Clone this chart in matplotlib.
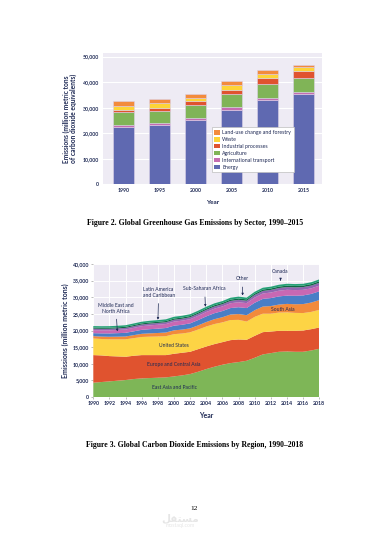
"""Two EPA-style charts on one page: GHG by sector (bars) and CO2 by region (stacked area)"""
import matplotlib
matplotlib.use("Agg")
import matplotlib.pyplot as plt
import numpy as np
from matplotlib.patches import Patch

plt.rcParams['font.family'] = ['Lato', 'DejaVu Sans']

NAVY = '#1F2A55'
BG = '#EEEBF4'

# --- Figure 2 data: emissions by sector (million metric tons CO2e)
bar_years = ['1990', '1995', '2000', '2005', '2010', '2015']
energy = [22450, 23230, 25300, 29200, 33150, 35240]
transport = [650, 750, 670, 900, 800, 1040]
agriculture = [5100, 4700, 4900, 5300, 5500, 5300]
industrial = [900, 1300, 1600, 1700, 2200, 2800]
waste = [1400, 1700, 1300, 1600, 1700, 1700]
land_use = [2000, 1800, 1700, 1600, 1500, 600]
sector_names = ['Energy', 'International transport', 'Agriculture',
                'Industrial processes', 'Waste', 'Land-use change and forestry']
sector_colors = ['#5F69B1', '#C56CB1', '#80B457', '#E0532F', '#FDD437', '#F38B3C']

# --- Figure 3 data: CO2 emissions by region (million metric tons)
years = list(range(1990, 2019))
east_asia = [4300, 4500, 4700, 4900, 5100, 5400, 5600, 5700, 5800, 5900, 6200, 6500, 6900, 7600, 8400,
             9100, 9700, 10200, 10500, 10900, 11800, 12800, 13200, 13600, 13700, 13600, 13600, 14000, 14500]
europe = [8300, 8000, 7600, 7300, 7000, 7000, 7000, 6900, 6800, 6700, 6800, 6800, 6700, 6800, 6800,
          6800, 6800, 6900, 6800, 6300, 6600, 6700, 6500, 6300, 6200, 6300, 6400, 6400, 6400]
united_states = [5000, 4950, 5050, 5150, 5250, 5300, 5450, 5550, 5600, 5700, 5900, 5800, 5850, 5900, 6000,
                 6050, 5950, 6050, 5900, 5500, 5700, 5550, 5350, 5500, 5550, 5400, 5250, 5200, 5300]
south_asia = [700, 730, 770, 800, 850, 900, 950, 1000, 1050, 1100, 1150, 1170, 1200, 1250, 1350,
              1450, 1550, 1650, 1750, 1900, 2000, 2150, 2300, 2400, 2550, 2600, 2700, 2800, 2950]
mena = [900, 950, 1000, 1050, 1100, 1150, 1200, 1250, 1300, 1350, 1400, 1450, 1500, 1600, 1700,
        1800, 1850, 1950, 2050, 2150, 2250, 2300, 2400, 2450, 2500, 2550, 2600, 2600, 2650]
latam = [900, 920, 940, 960, 1000, 1050, 1100, 1150, 1180, 1200, 1220, 1240, 1250, 1280, 1320,
         1360, 1400, 1450, 1500, 1480, 1580, 1620, 1680, 1720, 1740, 1700, 1680, 1680, 1700]
ssa = [450, 460, 460, 470, 480, 490, 500, 520, 530, 540, 560, 570, 580, 600, 630,
       650, 660, 690, 720, 720, 760, 770, 780, 800, 820, 820, 830, 830, 850]
other = [330, 330, 330, 330, 335, 340, 345, 350, 355, 360, 365, 370, 375, 380, 385,
         390, 395, 400, 405, 410, 415, 420, 425, 430, 435, 440, 445, 450, 455]
canada = [450, 445, 455, 465, 475, 485, 495, 505, 510, 520, 540, 530, 540, 555, 555,
          560, 550, 575, 560, 530, 545, 555, 550, 560, 560, 555, 545, 555, 570]
region_colors = ['#7EB657', '#E0532F', '#FDD445', '#F28A3B', '#4A7EC6', '#C868B3', '#9066B0',
                 '#0F6844', '#25A176']

fig = plt.figure(figsize=(3.65, 5.41), dpi=100)
W, H = 365.0, 541.0


def rect(x0, y_top, x1, y_bot):
    return [x0 / W, 1 - y_bot / H, (x1 - x0) / W, (y_bot - y_top) / H]


# ---------------- Figure 2: bars
ax1 = fig.add_axes(rect(103.3, 53.3, 321.7, 184.3))
ax1.set_facecolor(BG)
x = np.arange(len(bar_years))
bottom = np.zeros(len(bar_years))
for vals, col in zip([energy, transport, agriculture, industrial, waste, land_use], sector_colors):
    ax1.bar(x, vals, width=0.59, bottom=bottom, color=col, edgecolor='#DCD3E8', linewidth=0.4, zorder=3)
    bottom += np.array(vals)
ax1.set_xlim(-0.56, 5.51)
ax1.set_ylim(0, 51300)
ax1.set_yticks(range(0, 50001, 10000))
ax1.set_yticklabels(['0' if v == 0 else f'{v:,}' for v in range(0, 50001, 10000)])
ax1.set_xticks(x)
ax1.set_xticklabels(bar_years)
ax1.grid(axis='y', color='white', linewidth=0.8, zorder=0)
for s in ax1.spines.values():
    s.set_visible(False)
ax1.axhline(0, color='#C9C6D0', linewidth=0.6, zorder=4)
ax1.tick_params(length=0, labelsize=3.7, labelcolor=NAVY, pad=3)
for lab in ax1.get_xticklabels() + ax1.get_yticklabels():
    lab.set_fontweight('bold')
ax1.set_xlabel('Year', fontsize=4.6, fontweight='bold', color=NAVY, labelpad=5)
ax1.set_ylabel('Emissions (million metric tons\nof carbon dioxide equivalents)', fontsize=4.8,
               fontweight='bold', color=NAVY, labelpad=4, linespacing=1.0)
handles = [Patch(facecolor=c, edgecolor='none') for c in sector_colors][::-1]
leg = ax1.legend(handles, sector_names[::-1], loc='upper left', bbox_to_anchor=(0.496, 0.435),
                 fontsize=3.8, frameon=True, fancybox=False, edgecolor='#BDBDBD', framealpha=1,
                 handlelength=1.0, handleheight=1.0, handletextpad=0.5, labelspacing=0.33,
                 borderpad=0.5, borderaxespad=0)
leg.get_frame().set_linewidth(0.5)
leg.set_zorder(5)
for t in leg.get_texts():
    t.set_color(NAVY)

fig.text(195 / W, 1 - 222.7 / H, 'Figure 2. Global Greenhouse Gas Emissions by Sector, 1990\u20132015',
         ha='center', va='center', fontsize=5.6, fontweight='bold', family='Liberation Serif')

# ---------------- Figure 3: stacked area
ax2 = fig.add_axes(rect(93.3, 264, 319.3, 397))
ax2.set_facecolor(BG)
ax2.stackplot(years, east_asia, europe, united_states, south_asia, mena, latam, ssa, other, canada,
              colors=region_colors, linewidth=0, zorder=3)
ax2.set_xlim(1990, 2018)
ax2.set_ylim(0, 40000)
ax2.set_xticks(range(1990, 2019, 2))
ax2.set_yticks(range(0, 40001, 5000))
ax2.set_yticklabels(['0' if v == 0 else f'{v:,}' for v in range(0, 40001, 5000)])
ax2.grid(color='white', linewidth=0.7, zorder=0)
for s in ax2.spines.values():
    s.set_visible(False)
ax2.tick_params(length=1.5, width=0.4, color='#888888', labelsize=3.8, labelcolor=NAVY, pad=1.5)
for lab in ax2.get_xticklabels() + ax2.get_yticklabels():
    lab.set_fontweight('bold')
ax2.set_xlabel('Year', fontsize=5.0, fontweight='bold', color=NAVY, labelpad=4)
ax2.set_ylabel('Emissions (million metric tons)', fontsize=5.0, fontweight='bold', color=NAVY, labelpad=3)

lbl = dict(fontsize=3.6, color=NAVY, ha='center', va='center', zorder=6)
ax2.text(2000, 2900, 'East Asia and Pacific', **lbl)
ax2.text(2000, 9800, 'Europe and Central Asia', **lbl)
ax2.text(2000, 15400, 'United States', **lbl)
ax2.text(2013.5, 26200, 'South Asia', **lbl)
arrow = dict(arrowstyle='-|>', color=NAVY, lw=0.5, mutation_scale=3)
ax2.annotate('Middle East and\nNorth Africa', xy=(1993, 18900), xytext=(1992.8, 26700),
             arrowprops=arrow, linespacing=1.2, **lbl)
ax2.annotate('Latin America\nand Caribbean', xy=(1998, 22400), xytext=(1998.1, 31400),
             arrowprops=arrow, linespacing=1.2, **lbl)
ax2.annotate('Sub-Saharan Africa', xy=(2003.9, 26300), xytext=(2003.8, 32500), arrowprops=arrow, **lbl)
ax2.annotate('Other', xy=(2008.5, 29700), xytext=(2008.5, 35500), arrowprops=arrow, **lbl)
ax2.annotate('Canada', xy=(2013.2, 34200), xytext=(2013.2, 37600), arrowprops=arrow, **lbl)

fig.text(195 / W, 1 - 445 / H, 'Figure 3. Global Carbon Dioxide Emissions by Region, 1990\u20132018',
         ha='center', va='center', fontsize=5.6, fontweight='bold', family='Liberation Serif')

# page number and faint watermark
fig.text(194 / W, 1 - 509 / H, '12', ha='center', va='center', fontsize=5.4, family='Liberation Serif')
fig.text(180 / W, 1 - 518 / H, '\ufede\ufed8\ufe98\ufeb4\ufee3', ha='center', va='center', fontsize=7.5,
         color='#E6E6E6', family='DejaVu Sans', fontweight='bold')
fig.text(180 / W, 1 - 526 / H, 'mostaql.com', ha='center', va='center', fontsize=3.8, color='#E6E6E6')

fig.savefig('out.png', dpi=100, facecolor='white')
